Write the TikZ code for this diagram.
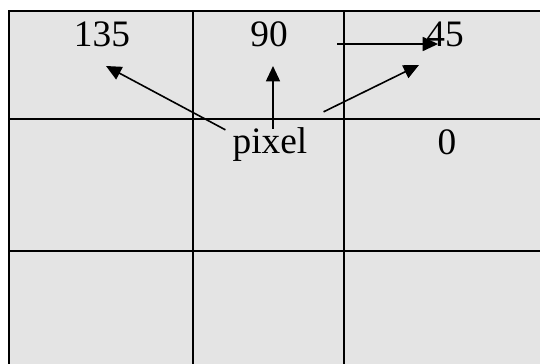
\documentclass[tikz,border=0pt]{standalone}
\usepackage{fontspec}
\setmainfont{Liberation Serif}
\usetikzlibrary{arrows.meta}
\definecolor{cellgray}{HTML}{E4E4E4}

\begin{document}
\begin{tikzpicture}[x=0.75pt,y=0.75pt,
		grid/.style={black,line width=1.9pt},
		dir/.style={black,line width=1.2pt,-{Triangle[length=11.5pt,width=10.5pt]}},
		lbl/.style={anchor=base,font=\fontsize{28}{33}\selectfont}]
		\tikzstyle{every node}+=[inner sep=0pt]
		\useasboundingbox (0,0) rectangle (540,-364);
		\fill [cellgray] (9,-11) rectangle (540,-364);
		\draw [grid] (9,-364) -- (9,-11) -- (540,-11);
		\draw [grid] (9,-119) -- (540,-119);
		\draw [grid] (9,-251) -- (540,-251);
		\draw [grid] (193,-11) -- (193,-364);
		\draw [grid] (344,-11) -- (344,-364);
		\node [lbl] (n135) at (102,-46) {135};
		\node [lbl] (n90) at (269,-46) {90};
		\node [lbl] (n45) at (445,-46) {45};
		\node [lbl] (n0) at (447,-154) {0};
		\node [lbl] (pixel) at (270,-153) {pixel};
		\coordinate (t135) at (106,-66);
		\coordinate (t90) at (273,-66);
		\coordinate (t45) at (419,-65);
		\coordinate (h0) at (337,-44);
		\draw [dir] ([xshift=-5.25pt,yshift=-2.25pt]pixel.north west) -- (t135);
		\draw [dir] ([xshift=2.25pt,yshift=-1.5pt]pixel.north) -- (t90);
		\draw [dir] ([xshift=12pt,yshift=11.25pt]pixel.north east) -- (t45);
		\draw [dir] (h0) -- ([xshift=9pt,yshift=1.5pt]n45.base west);
\end{tikzpicture}
\end{document}
